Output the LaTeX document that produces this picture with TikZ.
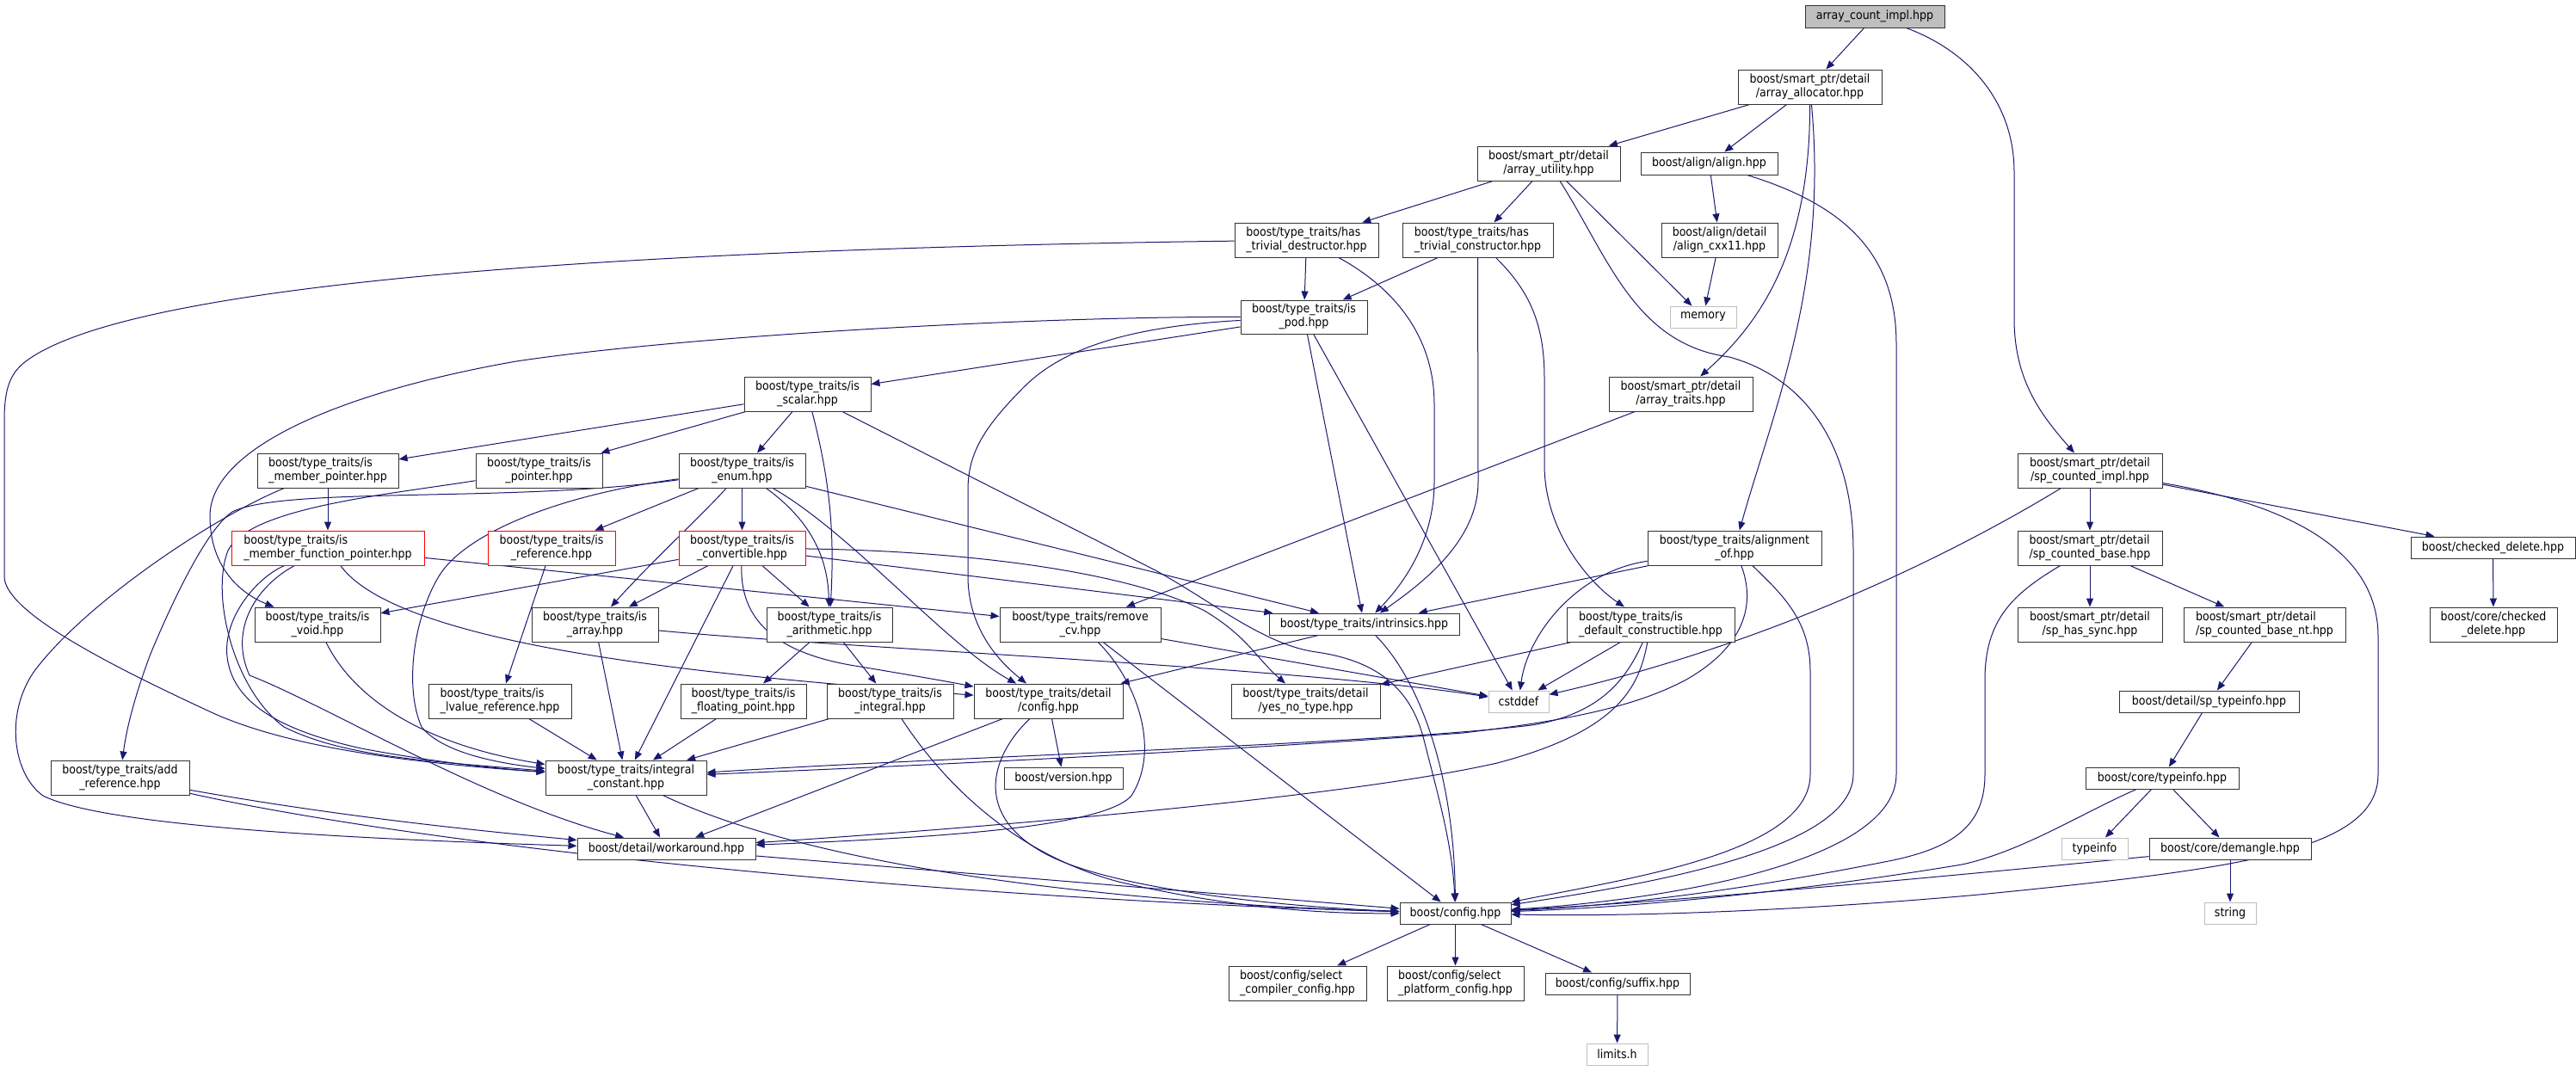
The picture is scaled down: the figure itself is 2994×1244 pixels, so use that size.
\documentclass[tikz,border=0pt]{standalone}
\usepackage{fontspec}
\setmainfont{DejaVu Sans Condensed}
\usetikzlibrary{arrows.meta,backgrounds}
\definecolor{edgeblue}{HTML}{191970}
\definecolor{extgray}{HTML}{BFBFBF}
\definecolor{rootfill}{HTML}{BFBFBF}
\definecolor{nodeline}{HTML}{333333}
\newlength\lwa \newlength\lwb
\newcommand\twoline[2]{\settowidth\lwa{#1}\settowidth\lwb{#2}\ifdim\lwb>\lwa\lwa=\lwb\fi\begin{tabular}{@{}l@{}}\makebox[\lwa][l]{#1}\\\makebox[\lwa][c]{#2}\end{tabular}}
\tikzset{
  nd/.style={draw=nodeline, line width=0.5pt, inner sep=0pt, font=\fontsize{7}{7.9}\selectfont, fill=white, text=black},
  sz/.style 2 args={minimum width={#1*0.5pt}, minimum height={#2*0.5pt}},
  ext/.style={nd, draw=extgray},
  rnd/.style={nd, draw=red},
  rootnd/.style={nd, fill=rootfill},
  edg/.style={draw=edgeblue, line width=0.5pt, -{Triangle[length=5pt,width=4pt]}}
}
\begin{document}
\begin{tikzpicture}[x=0.5pt,y=-0.5pt]
\useasboundingbox (0,0) rectangle (2994,1244);
% nodes
\node[rootnd,sz={162}{26}] (aci) at (2179,19) {array\_count\_impl.hpp};
\node[nd,sz={167}{40}] (aal) at (2103.5,101) {\twoline{boost/smart\_ptr/detail}{/array\_allocator.hpp}};
\node[nd,sz={166}{40}] (aut) at (1800,190) {\twoline{boost/smart\_ptr/detail}{/array\_utility.hpp}};
\node[nd,sz={159}{26}] (aln) at (1986.5,190) {boost/align/align.hpp};
\node[nd,sz={167}{40}] (htd) at (1518.5,279) {\twoline{boost/type\_traits/has}{\_trivial\_destructor.hpp}};
\node[nd,sz={175}{40}] (htc) at (1717.5,279) {\twoline{boost/type\_traits/has}{\_trivial\_constructor.hpp}};
\node[nd,sz={135}{40}] (acx) at (1998.5,279) {\twoline{boost/align/detail}{/align\_cxx11.hpp}};
\node[ext,sz={77}{25}] (mem) at (1979.5,368.5) {memory};
\node[nd,sz={147}{39}] (pod) at (1515.5,368.5) {\twoline{boost/type\_traits/is}{\_pod.hpp}};
\node[nd,sz={167}{40}] (atr) at (1953.5,458) {\twoline{boost/smart\_ptr/detail}{/array\_traits.hpp}};
\node[nd,sz={147}{40}] (scl) at (938.5,458) {\twoline{boost/type\_traits/is}{\_scalar.hpp}};
\node[nd,sz={164}{40}] (imp) at (381,547) {\twoline{boost/type\_traits/is}{\_member\_pointer.hpp}};
\node[nd,sz={147}{40}] (ipt) at (626.5,547) {\twoline{boost/type\_traits/is}{\_pointer.hpp}};
\node[nd,sz={147}{40}] (ienum) at (862.5,547) {\twoline{boost/type\_traits/is}{\_enum.hpp}};
\node[rnd,sz={224}{40}] (imfp) at (381,637) {\twoline{boost/type\_traits/is}{\_member\_function\_pointer.hpp}};
\node[rnd,sz={148}{40}] (iref) at (641,637) {\twoline{boost/type\_traits/is}{\_reference.hpp}};
\node[rnd,sz={147}{40}] (icv) at (862.5,637) {\twoline{boost/type\_traits/is}{\_convertible.hpp}};
\node[nd,sz={202}{40}] (alo) at (2016,637) {\twoline{boost/type\_traits/alignment}{\_of.hpp}};
\node[nd,sz={168}{40}] (sci) at (2429,547) {\twoline{boost/smart\_ptr/detail}{/sp\_counted\_impl.hpp}};
\node[nd,sz={168}{40}] (scb) at (2429,637) {\twoline{boost/smart\_ptr/detail}{/sp\_counted\_base.hpp}};
\node[nd,sz={191}{25}] (chd) at (2897.5,636.5) {boost/checked\_delete.hpp};
\node[nd,sz={146}{40}] (ivoid) at (369,726) {\twoline{boost/type\_traits/is}{\_void.hpp}};
\node[nd,sz={147}{40}] (iarr) at (691.5,726) {\twoline{boost/type\_traits/is}{\_array.hpp}};
\node[nd,sz={146}{40}] (iari) at (964,726) {\twoline{boost/type\_traits/is}{\_arithmetic.hpp}};
\node[nd,sz={187}{40}] (rcv) at (1255.5,726) {\twoline{boost/type\_traits/remove}{\_cv.hpp}};
\node[nd,sz={221}{25}] (intr) at (1585.5,725.5) {boost/type\_traits/intrinsics.hpp};
\node[nd,sz={195}{40}] (idc) at (1918.5,726) {\twoline{boost/type\_traits/is}{\_default\_constructible.hpp}};
\node[nd,sz={168}{40}] (shs) at (2429,726) {\twoline{boost/smart\_ptr/detail}{/sp\_has\_sync.hpp}};
\node[nd,sz={188}{40}] (scbnt) at (2632,726) {\twoline{boost/smart\_ptr/detail}{/sp\_counted\_base\_nt.hpp}};
\node[nd,sz={148}{40}] (cchd) at (2898,726) {\twoline{boost/core/checked}{\_delete.hpp}};
\node[nd,sz={166}{40}] (ilv) at (581,815) {\twoline{boost/type\_traits/is}{\_lvalue\_reference.hpp}};
\node[nd,sz={146}{40}] (ifp) at (864,815) {\twoline{boost/type\_traits/is}{\_floating\_point.hpp}};
\node[nd,sz={147}{40}] (iint) at (1034.5,815) {\twoline{boost/type\_traits/is}{\_integral.hpp}};
\node[nd,sz={173}{40}] (dcfg) at (1218.5,815) {\twoline{boost/type\_traits/detail}{/config.hpp}};
\node[nd,sz={173}{40}] (yn) at (1517.5,815) {\twoline{boost/type\_traits/detail}{/yes\_no\_type.hpp}};
\node[ext,sz={70}{25}] (cstd) at (1765,815.5) {cstddef};
\node[nd,sz={209}{25}] (spti) at (2567.5,815.5) {boost/detail/sp\_typeinfo.hpp};
\node[nd,sz={161}{40}] (addr) at (139.5,904) {\twoline{boost/type\_traits/add}{\_reference.hpp}};
\node[nd,sz={187}{40}] (ic) at (727.5,904) {\twoline{boost/type\_traits/integral}{\_constant.hpp}};
\node[nd,sz={138}{25}] (ver) at (1236,904.5) {boost/version.hpp};
\node[nd,sz={178}{25}] (cti) at (2513,904.5) {boost/core/typeinfo.hpp};
\node[nd,sz={207}{25}] (wa) at (774.5,986.5) {boost/detail/workaround.hpp};
\node[ext,sz={77}{25}] (tinf) at (2434.5,986.5) {typeinfo};
\node[nd,sz={188}{25}] (dem) at (2592,986.5) {boost/core/demangle.hpp};
\node[nd,sz={129}{25}] (cfg) at (1691.5,1061.5) {boost/config.hpp};
\node[ext,sz={60}{25}] (str) at (2592,1061.5) {string};
\node[nd,sz={160}{40}] (scc) at (1508,1143) {\twoline{boost/config/select}{\_compiler\_config.hpp}};
\node[nd,sz={159}{40}] (spc) at (1691.5,1143) {\twoline{boost/config/select}{\_platform\_config.hpp}};
\node[nd,sz={168}{25}] (suf) at (1880,1143.5) {boost/config/suffix.hpp};
\node[ext,sz={71}{25}] (lim) at (1879.5,1225.5) {limits.h};

\begin{scope}[on background layer]
\fill[white] (0,0) rectangle (2994,1244);
% root
\draw[edg] (aci) -- (aal);
\draw[edg] (aci) .. controls (2290,60) and (2341,120) .. (2341,200) -- (2341,370) .. controls (2341,440) and (2370,480) .. (sci);
% array_allocator
\draw[edg] (aal) -- (aut);
\draw[edg] (aal) -- (aln);
\draw[edg] (aal) .. controls (2104,300) and (2040,380) .. (atr);
\draw[edg] (aal) .. controls (2125,330) and (2060,480) .. (alo);
% array_utility
\draw[edg] (aut) -- (htd);
\draw[edg] (aut) -- (htc);
\draw[edg] (aut) -- (mem);
\draw[edg] (aut) .. controls (1870,300) and (1900,400) .. (2010,415) .. controls (2100,440) and (2154,520) .. (2154,640) -- (2154,900) .. controls (2154,990) and (1900,1030) .. (cfg);
% align
\draw[edg] (aln) -- (acx);
\draw[edg] (aln) .. controls (2150,240) and (2204,300) .. (2204,400) -- (2204,900) .. controls (2204,1000) and (1950,1045) .. (cfg);
\draw[edg] (acx) -- (mem);
% has_trivial_destructor
\draw[edg] (htd) -- (pod);
\draw[edg] (htd) .. controls (1630,340) and (1667,400) .. (1667,470) -- (1667,560) .. controls (1667,630) and (1630,680) .. (intr);
\draw[edg] (htd) .. controls (700,290) and (150,330) .. (30,420) .. controls (10,435) and (5,455) .. (5,490) -- (5,670) .. controls (5,710) and (120,770) .. (250,830) .. controls (330,865) and (450,885) .. (ic);
% has_trivial_constructor
\draw[edg] (htc) -- (pod);
\draw[edg] (htc) -- (1718,560) .. controls (1718,630) and (1650,680) .. (intr);
\draw[edg] (htc) .. controls (1780,340) and (1795,380) .. (1795,440) -- (1795,540) .. controls (1795,620) and (1850,680) .. (idc);
% is_pod
\draw[edg] (pod) -- (scl);
\draw[edg] (pod) .. controls (1200,368) and (800,390) .. (600,420) .. controls (400,455) and (244,520) .. (244,600) .. controls (244,660) and (280,690) .. (ivoid);
\draw[edg] (pod) -- (intr);
\draw[edg] (pod) -- (cstd);
\draw[edg] (pod) .. controls (1300,380) and (1230,410) .. (1190,450) .. controls (1140,500) and (1125,530) .. (1125,570) -- (1125,670) .. controls (1125,720) and (1150,760) .. (dcfg);
% array_traits
\draw[edg] (atr) -- (rcv);
% is_scalar
\draw[edg] (scl) -- (imp);
\draw[edg] (scl) -- (ipt);
\draw[edg] (scl) -- (ienum);
\draw[edg] (scl) .. controls (965,560) and (970,620) .. (iari);
\draw[edg] (scl) -- (1343,663) .. controls (1410,700) and (1470,750) .. (1530,758) .. controls (1600,768) and (1640,800) .. (1655,860) .. controls (1670,920) and (1688,980) .. (cfg);
% is_member_pointer
\draw[edg] (imp) -- (imfp);
\draw[edg] (imp) .. controls (250,600) and (100,700) .. (40,780) .. controls (5,830) and (15,900) .. (50,925) .. controls (120,960) and (400,975) .. (wa);
% is_pointer
\draw[edg] (ipt) .. controls (450,575) and (290,590) .. (265,640) .. controls (245,690) and (270,800) .. (330,845) .. controls (400,880) and (500,885) .. (ic);
% is_enum
\draw[edg] (ienum) .. controls (650,575) and (540,620) .. (510,670) .. controls (480,720) and (470,800) .. (490,845) .. controls (510,870) and (560,885) .. (ic);
\draw[edg] (ienum) .. controls (600,585) and (330,565) .. (270,595) .. controls (240,615) and (200,700) .. (175,760) .. controls (160,800) and (148,840) .. (addr);
\draw[edg] (ienum) -- (iref);
\draw[edg] (ienum) .. controls (815,600) and (760,650) .. (iarr);
\draw[edg] (ienum) -- (icv);
\draw[edg] (ienum) .. controls (935,600) and (962,640) .. (iari);
\draw[edg] (ienum) .. controls (990,620) and (1100,750) .. (dcfg);
\draw[edg] (ienum) -- (intr);
% is_member_function_pointer
\draw[edg] (imfp) -- (rcv);
\draw[edg] (imfp) .. controls (300,670) and (255,720) .. (265,770) .. controls (275,820) and (330,850) .. (420,870) .. controls (500,885) and (570,893) .. (ic);
\draw[edg] (imfp) .. controls (300,680) and (265,730) .. (290,785) .. controls (380,820) and (560,930) .. (wa);
\draw[edg] (imfp) .. controls (470,760) and (900,790) .. (dcfg);
% is_reference
\draw[edg] (iref) -- (ilv);
% is_convertible
\draw[edg] (icv) -- (ivoid);
\draw[edg] (icv) -- (iarr);
\draw[edg] (icv) -- (ic);
\draw[edg] (icv) .. controls (860,720) and (900,760) .. (1000,775) .. controls (1060,785) and (1100,792) .. (dcfg);
\draw[edg] (icv) -- (iari);
\draw[edg] (icv) .. controls (1100,640) and (1300,660) .. (1400,710) .. controls (1450,740) and (1460,765) .. (yn);
\draw[edg] (icv) -- (intr);
% leaves of type_traits
\draw[edg] (ilv) -- (ic);
\draw[edg] (iarr) -- (ic);
\draw[edg] (iarr) .. controls (1000,755) and (1500,775) .. (cstd);
\draw[edg] (ivoid) .. controls (400,790) and (460,860) .. (ic);
\draw[edg] (iari) -- (ifp);
\draw[edg] (iari) -- (iint);
\draw[edg] (ifp) -- (ic);
\draw[edg] (iint) -- (ic);
\draw[edg] (iint) .. controls (1090,900) and (1170,990) .. (1300,1025) .. controls (1450,1060) and (1560,1062) .. (cfg);
% detail/config
\draw[edg] (dcfg) -- (ver);
\draw[edg] (dcfg) -- (wa);
\draw[edg] (dcfg) .. controls (1150,880) and (1130,950) .. (1220,995) .. controls (1300,1035) and (1500,1055) .. (cfg);
% remove_cv
\draw[edg] (rcv) -- (cfg);
\draw[edg] (rcv) -- (cstd);
\draw[edg] (rcv) .. controls (1320,790) and (1350,870) .. (1315,925) .. controls (1280,965) and (1050,975) .. (wa);
% intrinsics
\draw[edg] (intr) -- (dcfg);
\draw[edg] (intr) .. controls (1650,790) and (1690,900) .. (cfg);
% is_default_constructible
\draw[edg] (idc) -- (yn);
\draw[edg] (idc) -- (cstd);
\draw[edg] (idc) .. controls (1890,790) and (1860,830) .. (1780,843) .. controls (1600,865) and (1100,880) .. (ic);
\draw[edg] (idc) .. controls (1905,800) and (1880,850) .. (1740,887) .. controls (1550,930) and (1100,965) .. (wa);
% alignment_of
\draw[edg] (alo) -- (intr);
\draw[edg] (alo) .. controls (1830,665) and (1775,740) .. (cstd);
\draw[edg] (alo) .. controls (2040,700) and (2030,750) .. (1960,790) .. controls (1900,822) and (1820,838) .. (1700,852) .. controls (1400,875) and (1000,893) .. (ic);
\draw[edg] (alo) .. controls (2070,690) and (2104,720) .. (2104,780) -- (2104,900) .. controls (2104,990) and (1900,1020) .. (cfg);
% sp_counted_impl
\draw[edg] (sci) -- (scb);
\draw[edg] (sci) -- (chd);
\draw[edg] (sci) .. controls (2680,590) and (2764,650) .. (2764,740) -- (2764,900) .. controls (2764,990) and (2600,1010) .. (2300,1040) .. controls (2100,1058) and (1900,1066) .. (cfg);
\draw[edg] (sci) .. controls (2260,650) and (2050,750) .. (cstd);
% sp_counted_base
\draw[edg] (scb) -- (shs);
\draw[edg] (scb) -- (scbnt);
\draw[edg] (scb) .. controls (2340,690) and (2307,720) .. (2307,790) -- (2307,900) .. controls (2307,960) and (2270,985) .. (2200,1000) .. controls (2050,1030) and (1900,1052) .. (cfg);
\draw[edg] (scbnt) -- (spti);
\draw[edg] (spti) -- (cti);
% core/typeinfo
\draw[edg] (cti) -- (tinf);
\draw[edg] (cti) -- (dem);
\draw[edg] (cti) .. controls (2420,945) and (2350,990) .. (2280,1005) .. controls (2100,1035) and (1900,1055) .. (cfg);
\draw[edg] (dem) -- (str);
\draw[edg] (dem) .. controls (2400,1005) and (2000,1045) .. (cfg);
% config
\draw[edg] (cfg) -- (scc);
\draw[edg] (cfg) -- (spc);
\draw[edg] (cfg) -- (suf);
\draw[edg] (suf) -- (lim);
\draw[edg] (chd) -- (cchd);
% add_reference, integral_constant, workaround
\draw[edg] (addr) .. controls (400,950) and (550,965) .. (wa);
\draw[edg] (addr) .. controls (500,985) and (1100,1045) .. (cfg);
\draw[edg] (ic) -- (wa);
\draw[edg] (ic) .. controls (950,1010) and (1300,1050) .. (cfg);
\draw[edg] (wa) -- (cfg);
\end{scope}
\end{tikzpicture}
\end{document}
